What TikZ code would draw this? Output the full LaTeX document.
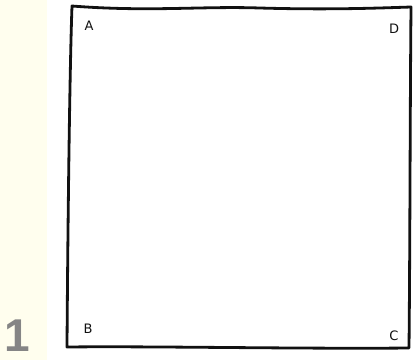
\documentclass[tikz,border=0pt]{standalone}
\usepackage{fontspec}
\usepackage{xcolor}
\usepackage{tikz}
\usetikzlibrary{positioning}
\newfontfamily\numfont{Liberation Sans}
\newfontfamily\handfont{DejaVu Sans}
\definecolor{ink}{HTML}{111111}
\definecolor{strip}{HTML}{FFFEEE}
\definecolor{digit}{HTML}{858585}
\tikzset{
  edge/.style={draw=ink, line width=2.8pt, line cap=round, line join=round},
  corner/.style={font=\handfont\fontsize{13}{13}\selectfont\color{ink}, inner sep=0pt},
  panel/.style={font=\numfont\bfseries\fontsize{46}{46}\selectfont\color{digit},
    inner sep=0pt, text depth=0pt},
}

\begin{document}
\begin{tikzpicture}[x=1pt, y=-1pt]
  \useasboundingbox (0,0) rectangle (414,360);
  \fill[white] (0,0) rectangle (414,360);
  \fill[strip] (0,0) rectangle (47,360);

  % square corners
  \coordinate (tl) at (72,6);
  \coordinate (tr) at (411,7);
  \coordinate (br) at (409,348);
  \coordinate (bl) at (67,347);

  \draw[edge] (bl) .. controls (68,200) and (70,60) .. (tl)
    .. controls (150,12) and (200,6) .. (260,8)
    .. controls (330,10) and (380,8) .. (tr)
    .. controls (410,120) and (410,250) .. (br)
    .. controls (300,349) and (150,346) .. (bl) -- cycle;

  % corner letters
  \node[corner] (lblA) at (89,26) {A};
  \node[corner] (lblD) at (394,29) {D};
  \node[corner] (lblB) at (88,329) {B};
  \node[corner] (lblC) at (394,336) {C};

  \node[panel, anchor=base] (num) at (17,351) {1};
\end{tikzpicture}
\end{document}
